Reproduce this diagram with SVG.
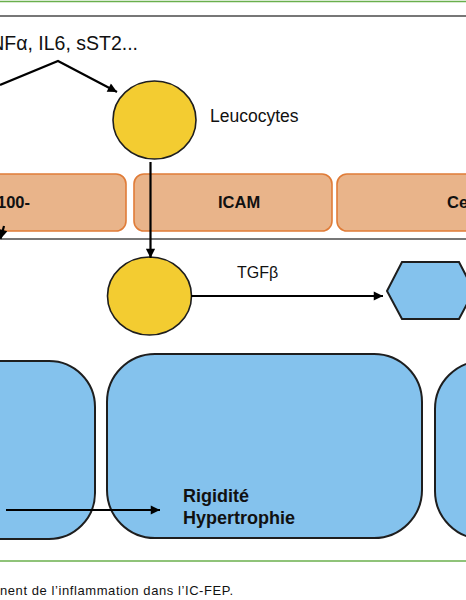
<svg xmlns="http://www.w3.org/2000/svg" width="466" height="600" viewBox="0 0 466 600">
<style>
  .txt { font-family: "Liberation Sans", Arial, sans-serif; fill: #111; }
  .bold { font-weight: bold; }
  .cell { fill: #f3cc31; stroke: #1e1e1e; stroke-width: 1.6; }
  .mol { fill: #e9b48a; stroke: #e07c38; stroke-width: 1.6; }
  .tissue { fill: #84c2ed; stroke: #1e1e1e; stroke-width: 2; }
  .conn { fill: none; stroke: #000; stroke-width: 2.2; }
  .rule { stroke-width: 1.6; fill: none; }
</style>
<defs>
  <marker id="ah" viewBox="0 0 10 10" refX="10" refY="5" markerWidth="5" markerHeight="4.2" markerUnits="strokeWidth" orient="auto">
    <path d="M0,0 L10,5 L0,10 z" fill="#000"/>
  </marker>
</defs>
<rect width="466" height="600" fill="#fff"/>

<g id="frame">
  <line class="rule" x1="0" y1="1.5" x2="466" y2="1.5" stroke="#6aaf4c" stroke-width="2.5"/>
  <line class="rule" x1="0" y1="16" x2="466" y2="16" stroke="#4a4a4a"/>
  <line class="rule" x1="0" y1="239" x2="466" y2="239" stroke="#4a4a4a"/>
  <line class="rule" x1="0" y1="561" x2="466" y2="561" stroke="#6aaf4c" stroke-width="2"/>
</g>

<g id="cytokines">
  <text class="txt" x="138" y="49.5" font-size="19.5" text-anchor="end">TNFα, IL6, sST2...</text>
</g>

<g id="leucocytes">
  <ellipse class="cell" cx="154.5" cy="120" rx="41.5" ry="39"/>
  <text class="txt" x="210" y="122" font-size="17.5">Leucocytes</text>
</g>

<g id="molecule-s100">
  <rect class="mol" x="-40" y="174" width="166" height="57" rx="10"/>
  <text class="txt bold" x="-3" y="208" font-size="16.5">100-</text>
</g>
<g id="molecule-icam">
  <rect class="mol" x="134" y="174" width="198" height="57" rx="10"/>
  <text class="txt bold" x="218" y="208" font-size="16.5">ICAM</text>
</g>
<g id="molecule-ce">
  <rect class="mol" x="337" y="174" width="180" height="57" rx="10"/>
  <text class="txt bold" x="447" y="208" font-size="16.5">Ce</text>
</g>

<g id="macrophage">
  <ellipse class="cell" cx="149.5" cy="296" rx="42" ry="39"/>
</g>
<g id="tgfb-label">
  <text class="txt" x="237" y="277.5" font-size="16">TGFβ</text>
</g>

<g id="fibroblast">
  <polygon class="tissue" points="387,291 402,262 459,262 474,291 459,319 402,319"/>
</g>

<g id="tissue-left">
  <rect class="tissue" x="-100" y="361" width="195" height="178" rx="46"/>
</g>
<g id="tissue-center">
  <rect class="tissue" x="107" y="354" width="315" height="184" rx="48"/>
  <text class="txt bold" x="183" y="502" font-size="18">Rigidité</text>
  <text class="txt bold" x="183" y="524" font-size="18">Hypertrophie</text>
</g>
<g id="tissue-right">
  <rect class="tissue" x="435" y="361" width="200" height="178" rx="48"/>
</g>

<g id="connectors">
  <polyline class="conn" points="0,85 58,61 117,92" marker-end="url(#ah)"/>
  <line class="conn" x1="150.5" y1="162" x2="150.5" y2="258" marker-end="url(#ah)"/>
  <line class="conn" x1="4" y1="226" x2="0.5" y2="239" marker-end="url(#ah)"/>
  <line class="conn" x1="191" y1="296" x2="383" y2="296" marker-end="url(#ah)"/>
  <line class="conn" x1="6" y1="510" x2="160" y2="510" marker-end="url(#ah)"/>
</g>

<g id="caption">
  <text class="txt" x="0" y="595" font-size="13" textLength="233" lengthAdjust="spacing">nent de l’inflammation dans l’IC-FEP.</text>
</g>
</svg>
